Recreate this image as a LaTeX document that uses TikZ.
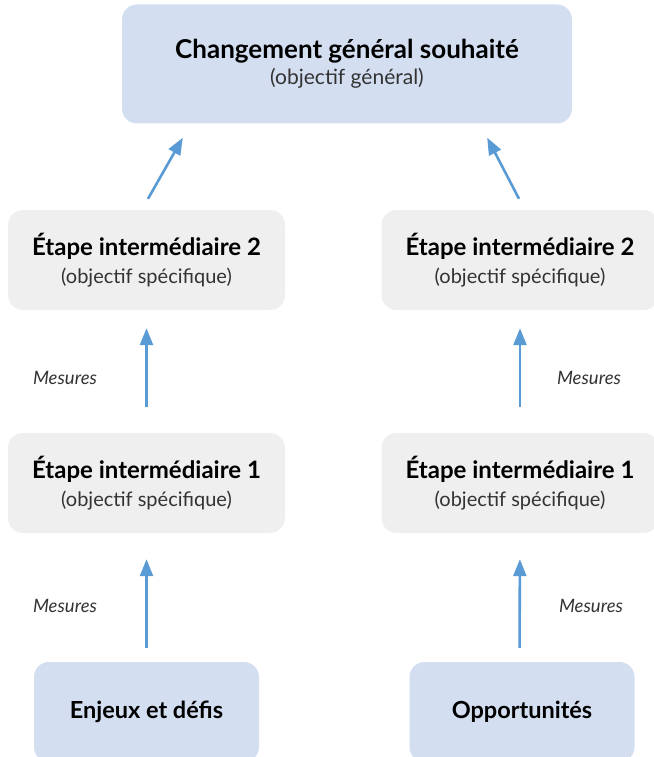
\documentclass[tikz,border=0pt]{standalone}
\usepackage{fontspec}
\setmainfont{Lato}
\usetikzlibrary{arrows.meta,calc}
\definecolor{boxblue}{HTML}{D3DEF1}
\definecolor{boxgrey}{HTML}{EFEFEF}
\definecolor{arrowblue}{HTML}{5B9BD5}
\definecolor{subgrey}{HTML}{333333}
\begin{document}
\begin{tikzpicture}[x=1pt,y=-1pt,
  card/.style={rounded corners=15pt, inner sep=0pt, align=center, text=black},
  goalbox/.style={card, fill=boxblue, minimum width=450pt, minimum height=119pt,
    font=\fontsize{21}{26}\selectfont},
  stepbox/.style={card, fill=boxgrey, minimum width=277pt, minimum height=100pt,
    font=\fontsize{20}{28}\selectfont},
  sourcebox/.style={card, fill=boxblue, minimum width=225pt, minimum height=100pt,
    font=\fontsize{23.5}{28}\selectfont\bfseries},
  flow/.style={draw=arrowblue, line width=2.6pt,
    -{Triangle[length=17pt,width=13pt]}},
  measure/.style={font=\fontsize{18.5}{20}\selectfont\itshape, text=subgrey}
]
\useasboundingbox (0,0) rectangle (653,757);

% overall goal
\node[goalbox] (goal) at (347,64)
  {{\fontsize{26}{26}\selectfont\bfseries Changement général souhaité}\\
   {\color{subgrey}(objectif général)}};

% intermediate steps, left column
\node[stepbox] (L2) at (146.5,260)
  {{\fontsize{24}{28}\selectfont\bfseries Étape intermédiaire 2}\\
   {\color{subgrey}(objectif spécifique)}};
\node[stepbox] (L1) at (146.5,483)
  {{\fontsize{24}{28}\selectfont\bfseries Étape intermédiaire 1}\\
   {\color{subgrey}(objectif spécifique)}};

% intermediate steps, right column
\node[stepbox] (R2) at (520,260)
  {{\fontsize{24}{28}\selectfont\bfseries Étape intermédiaire 2}\\
   {\color{subgrey}(objectif spécifique)}};
\node[stepbox] (R1) at (520,483)
  {{\fontsize{24}{28}\selectfont\bfseries Étape intermédiaire 1}\\
   {\color{subgrey}(objectif spécifique)}};

% starting points
\node[sourcebox] (E) at (146.5,712) {Enjeux et défis};
\node[sourcebox] (O) at (522,712) {Opportunités};

% measures labels
\node[measure] (mL2) at (65,378) {Mesures};
\node[measure] (mR2) at (589,378) {Mesures};
\node[measure] (mL1) at (65,606) {Mesures};
\node[measure] (mR1) at (591,606) {Mesures};

% connectors
\draw[flow] ($(L2.north)+(1.5,-11)$) -- ($(goal.south west)+(61,14)$);
\draw[flow] ($(R2.north)+(-1,-11)$) -- ($(goal.south east)+(-85,14)$);
\draw[flow, shorten <=26pt, shorten >=18pt] (L1.north) -- (L2.south);
\draw[flow, shorten <=26pt, shorten >=18pt] (R1.north) -- (R2.south);
\draw[flow, shorten <=14pt, shorten >=26pt] (E.north) -- (L1.south);
\draw[flow, shorten <=14pt, shorten >=26pt] ($(O.north)+(-2.5,0)$) -- (R1.south);
\end{tikzpicture}
\end{document}
